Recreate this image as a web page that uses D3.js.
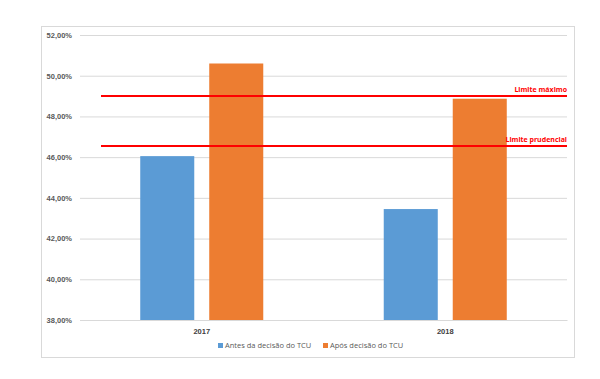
<!DOCTYPE html>
<html><head><meta charset="utf-8">
<script src="https://cdn.jsdelivr.net/npm/d3@7"></script>
<style>body{margin:0;background:#fff}svg{display:block;font-family:"Open Sans","Liberation Sans",sans-serif}</style>
</head><body><svg id="c" width="600" height="379"></svg>
<script>
const categories = ["2017", "2018"];
const seriesNames = ["Antes da decisão do TCU", "Após decisão do TCU"];
const antes = [46.05, 43.45];
const apos = [50.6, 48.87];
const yTicks = [38, 40, 42, 44, 46, 48, 50, 52];
const limits = [{label: "Limite máximo", value: 49.0}, {label: "Limite prudencial", value: 46.55}];
const colors = ["#5B9BD5", "#ED7D31"];

const svg = d3.select("#c");
svg.append("rect").attr("x", 41.5).attr("y", 26.5).attr("width", 533).attr("height", 331)
  .attr("fill", "#fff").attr("stroke", "#D9D9D9");

const m = {l: 80, r: 567, t: 35, b: 320};
const y = d3.scaleLinear().domain([38, 52]).range([m.b, m.t]);
const x0 = d3.scaleBand().domain(categories).range([m.l, m.r]);
const x1 = d3.scaleBand().domain([0, 1]).range([0, x0.bandwidth()]).paddingInner(0.217).paddingOuter(0.873);

const fmt = v => v.toFixed(2).replace(".", ",") + "%";
const yAxis = svg.append("g").attr("transform", `translate(${m.l},0)`)
  .call(d3.axisLeft(y).tickValues(yTicks).tickFormat(fmt).tickSize(-(m.r - m.l)).tickPadding(8));
yAxis.select(".domain").remove();
yAxis.selectAll(".tick line").attr("stroke", "#D9D9D9");
yAxis.selectAll(".tick text").attr("fill", "#595959").attr("font-size", 7.5).attr("font-weight", "bold");

const series = [antes, apos];
categories.forEach((c, i) => {
  series.forEach((s, j) => {
    svg.append("rect").attr("x", x0(c) + x1(j)).attr("width", x1.bandwidth())
      .attr("y", y(s[i])).attr("height", y(38) - y(s[i])).attr("fill", colors[j]);
  });
});

const xAxis = svg.append("g").attr("transform", `translate(0,${m.b})`)
  .call(d3.axisBottom(x0).tickSize(0).tickPadding(9));
xAxis.select(".domain").attr("stroke", "#D9D9D9");
xAxis.selectAll(".tick text").attr("fill", "#404040").attr("font-size", 7.5).attr("font-weight", "bold");

limits.forEach(l => {
  svg.append("line").attr("x1", 101).attr("x2", m.r).attr("y1", y(l.value)).attr("y2", y(l.value))
    .attr("stroke", "#FF0000").attr("stroke-width", 2);
  svg.append("text").attr("x", m.r).attr("y", y(l.value) - 4).attr("text-anchor", "end")
    .attr("fill", "#FF0000").attr("font-size", 7).attr("font-weight", "bold").text(l.label);
});

const lg = svg.append("g").attr("transform", "translate(218,348)");
const lx = [0, 105];
seriesNames.forEach((n, j) => {
  lg.append("rect").attr("x", lx[j]).attr("y", -5).attr("width", 5).attr("height", 5).attr("fill", colors[j]);
  lg.append("text").attr("x", lx[j] + 7).attr("y", 0).attr("fill", "#595959").attr("font-size", 7.5).text(n);
});
</script></body></html>
